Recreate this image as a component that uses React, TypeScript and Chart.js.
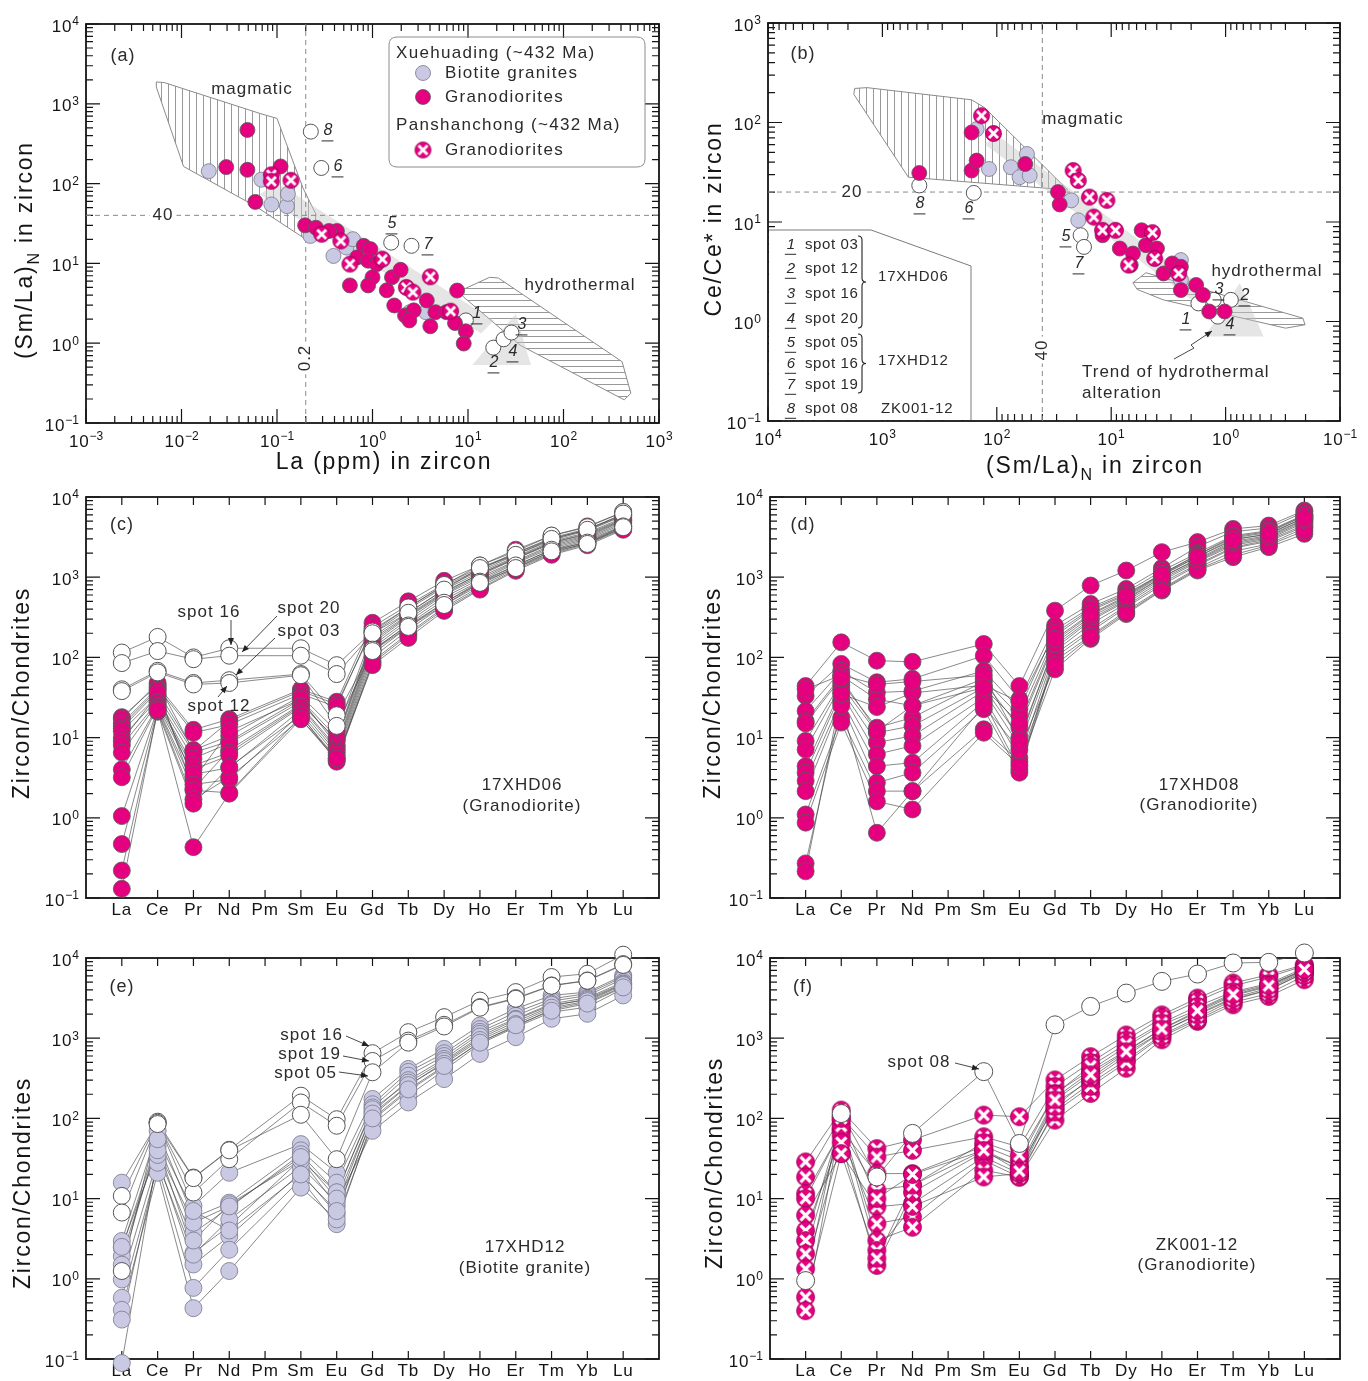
import React, { useEffect, useRef } from 'react';
import { Chart, registerables } from 'chart.js';

Chart.register(...registerables);

const FONT = "'Liberation Sans', Arial, Helvetica, sans-serif";
const MAGENTA = '#e4007f';
const LAVENDER = '#c9c9e3';
const INK = '#151515';
const NOTE = '#2b2b2b';
const TREND = 'rgba(198,198,198,0.45)';

// ---------------- categories / tick labels ----------------
const REE = ['La', 'Ce', 'Pr', 'Nd', 'Pm', 'Sm', 'Eu', 'Gd', 'Tb', 'Dy', 'Ho', 'Er', 'Tm', 'Yb', 'Lu'];
const A_X_EXP = [-3, 3];
const A_Y_EXP = [-1, 4];
const B_X_EXP = [-1, 4];
const B_Y_EXP = [-1, 3];
const REE_Y_EXP = [-1, 4];

// ---------------- panel (a): La (ppm) vs (Sm/La)N ----------------
const aBiotite = [
  [0.0193, 143], [0.0686, 112], [0.0873, 54.8], [0.127, 52.2], [0.13, 74.3], [0.224, 22.1],
  [0.39, 12.4], [0.533, 15.8], [0.624, 20.1], [2.46, 2.45], [3.62, 2.45],
];
const aGranodiorite = [
  [0.049, 470], [0.0294, 161], [0.049, 149], [0.109, 164], [0.0593, 59], [0.197, 30], [0.256, 28],
  [0.424, 25.5], [0.35, 25.5], [0.81, 16.6], [0.95, 15.1], [0.69, 11.9], [0.9, 10.8], [1.11, 9.8],
  [1.0, 6.7], [0.58, 5.3], [0.9, 5.3], [1.41, 4.6], [1.6, 6.7], [1.97, 8.3], [1.69, 2.97],
  [2.19, 2.23], [2.7, 2.58], [3.7, 3.43], [4.56, 2.45], [5.93, 2.45], [4.03, 1.63], [7.31, 1.79],
  [9.48, 1.41], [9.02, 0.99], [7.69, 4.57], [2.43, 1.93],
];
const aPanshanchong = [
  [0.0873, 129], [0.0873, 107], [0.14, 110], [0.294, 23.2], [0.466, 19.1], [0.58, 9.8],
  [1.27, 11.3], [2.26, 5.0], [2.65, 4.36], [4.03, 6.8], [6.58, 2.52],
];
const aSpotLabels = ['8', '6', '5', '7', '1', '2', '4', '3'];
const aSpots = [
  [0.226, 448], [0.291, 157], [1.57, 18.2], [2.56, 16.6], [9.5, 1.93], [18.4, 0.88], [23.6, 1.12], [28.5, 1.36],
];
const aMagmaticField = [
  [0.00545, 1879], [0.0066, 1845], [0.0658, 759], [0.1, 656], [0.123, 336], [0.187, 88.3],
  [0.256, 41.1], [0.243, 23.2], [0.208, 19.5], [0.0593, 52.2], [0.0105, 164], [0.00545, 1622],
];
const aHydrothermalField = [
  [8.11, 4.48], [16.9, 6.7], [20.8, 6.56], [411, 0.586], [507, 0.236], [433, 0.195], [35.1, 0.944], [9.02, 3.78],
];
const aTrendBand = [[0.0658, 72.9], [0.1, 102], [18.7, 1.93], [13.7, 1.32]];
const aTrendHead = [[31.6, 2.34], [45.6, 0.532], [11.1, 0.532]];

// ---------------- panel (b): (Sm/La)N vs Ce/Ce* ----------------
const bBiotite = [
  [150, 85.7], [117, 34.1], [75.3, 35.5], [63.2, 28.2], [51.6, 29.3], [54.5, 48.2], [22.4, 16.5],
  [19.4, 10.4], [2.46, 4.14], [2.46, 2.61],
];
const bGranodiorite = [
  [476, 31.1], [166, 79.4], [166, 32.9], [150, 41.4], [56.4, 38.3], [29.2, 20], [28.2, 15],
  [11.9, 7.36], [8.41, 5.41], [6.75, 3.69], [6.46, 4.82], [5.42, 8.26], [4.97, 5.85], [3.98, 5.41],
  [3.49, 3.04], [2.93, 3.83], [2.46, 2.07], [1.81, 2.33], [1.58, 1.85], [1.39, 1.26], [1.02, 1.26], [2.46, 3.55],
];
const bPanshanchong = [
  [136, 117], [107, 77.6], [21.5, 32.9], [19.4, 26.1], [15.5, 17.8], [10.9, 16.5], [14.2, 11.2],
  [11.9, 8.26], [9.18, 8.26], [7.05, 3.69], [4.36, 7.82], [4.17, 4.3], [2.57, 3.04],
];
const bSpotLabels = ['8', '6', '5', '7', '1', '3', '2', '4'];
const bSpots = [
  [476, 23.3], [159, 19.6], [18.5, 7.36], [17.3, 5.62], [1.73, 1.52], [1.27, 1.65], [0.9, 1.65], [1.17, 1.12],
];
const bMagmaticField = [
  [1746, 220], [1365, 224], [166, 169], [128, 141], [24, 21], [593, 28.2], [1778, 192],
];
const bHydrothermalField = [
  [6.46, 2.45], [4.97, 3.09], [0.211, 1.08], [0.202, 0.927], [0.299, 0.857], [3.5, 1.65], [5.92, 2.1],
];
const bTrendBand = [[128, 60.7], [97.7, 73.6], [1.33, 1.92], [1.73, 1.47]];
const bTrendHead = [[0.753, 2.42], [0.465, 0.708], [1.52, 0.708]];
const bKeySpots = ['spot 03', 'spot 12', 'spot 16', 'spot 20', 'spot 05', 'spot 16', 'spot 19', 'spot 08'];
const bKeySamples = ['17XHD06', '17XHD12', 'ZK001-12'];

// ---------------- panel (c): 17XHD06 granodiorite (La..Lu, Pm = null) ----------------
const cGranodiorite = [
  [18, 45, 12.5, 17, null, 40, 28, 270, 500, 900, 1400, 2200, 3300, 4300, 6500],
  [17, 48, 6.8, 16, null, 38, 26, 220, 420, 780, 1250, 2000, 3000, 3900, 5900],
  [15, 42, 11.5, 14.5, null, 35, 24, 240, 450, 820, 1300, 2000, 3100, 4000, 6000],
  [14, 40, 2.3, 7, null, 26, 9.5, 170, 340, 660, 1100, 1750, 2700, 3500, 5300],
  [13, 38, 7, 10.5, null, 33, 12, 200, 400, 750, 1200, 1900, 2900, 3800, 5800],
  [12, 33, 6.5, 9, null, 30, 10, 180, 360, 700, 1150, 1800, 2800, 3600, 5500],
  [10, 30, 5.5, 8.5, null, 28, 9, 160, 330, 640, 1100, 1700, 2700, 3400, 5200],
  [9, 35, 3, 12, null, 30, 8, 150, 320, 620, 1050, 1700, 2600, 3300, 5100],
  [8, 28, 4.5, 6.5, null, 25, 7.5, 140, 300, 600, 1000, 1600, 2500, 3200, 5000],
  [6.5, 27, 4, 6, null, 24, 7, 130, 280, 560, 950, 1550, 2400, 3100, 4800],
  [4, 25, 3.5, 4.2, null, 22, 6.5, 120, 260, 520, 900, 1500, 2300, 3000, 4600],
  [3.2, 24, 2.6, 3, null, 20, 6, 110, 240, 480, 850, 1400, 2200, 2900, 4400],
  [1.05, 23, 2.2, 2.05, null, 18.5, 5.5, 100, 220, 450, 800, 1350, 2100, 2800, 4300],
  [0.47, 22, 1.7, 3.2, null, 17, 5.2, 90, 200, 420, 760, 1300, 2000, 2700, 4100],
  [0.22, 21, 1.5, 4.3, null, 19, 5, 85, 190, 400, 720, 1250, 1950, 2600, 4000],
  [0.13, 22, 0.43, 2.0, null, 17, 5.5, 80, 175, 380, 700, 1200, 1900, 2500, 3900],
];
const cSpots = [
  [115, 180, 100, 130, null, 130, 80, 210, 420, 800, 1400, 2100, 3300, 4200, 6500], // spot 16
  [85, 120, 95, 105, null, 105, 62, 200, 360, 700, 1300, 1900, 3000, 3900, 6200], // spot 20
  [40, 68, 48, 52, null, 62, 19, 125, 250, 480, 880, 1400, 2200, 2700, 4300], // spot 03
  [38, 65, 46, 48, null, 60, 14, 120, 240, 450, 850, 1300, 2100, 2600, 4200], // spot 12
];

// ---------------- panel (d): 17XHD08 granodiorite ----------------
const dGranodiorite = [
  [44, 154, 91, 88, null, 147, 44, 383, 787, 1211, 2054, 2738, 4000, 4400, 6800],
  [33, 83, 49, 54, null, 105, 30, 249, 464, 714, 1300, 2400, 3700, 4100, 6500],
  [21.5, 68, 36.5, 38, null, 68, 22.6, 220, 420, 650, 1200, 2000, 3300, 3800, 6000],
  [16, 59, 30, 25, null, 54, 18.6, 186, 383, 600, 1100, 1900, 3100, 3600, 5800],
  [9.1, 49, 13.3, 17.8, null, 50, 13.3, 160, 340, 560, 1050, 1800, 3000, 3400, 5600],
  [7.1, 45, 11.5, 14, null, 42, 10, 140, 300, 520, 1000, 1700, 2800, 3300, 5300],
  [4.4, 40, 8.7, 10.5, null, 38, 7.9, 130, 287, 500, 950, 1600, 2600, 3100, 5000],
  [3.65, 36.5, 6.2, 7.9, null, 31.6, 5.6, 120, 260, 470, 900, 1550, 2500, 3000, 4800],
  [2.9, 30, 4.4, 4.87, null, 28, 4.0, 110, 226, 440, 850, 1450, 2371, 2900, 4500],
  [2.15, 27, 2.74, 3.65, null, 22.6, 3.65, 100, 210, 420, 800, 1400, 2300, 2800, 4300],
  [1.1, 17.8, 2.15, 2.15, null, 12.7, 5.0, 91, 186, 380, 720, 1300, 2100, 2600, 4100],
  [0.87, 15.4, 1.6, 1.27, null, 11.5, 4.5, 71, 170, 347, 681, 1211, 1778, 2371, 3470],
  [0.27, 25, 0.65, 2.15, null, 25, 7, 80, 180, 360, 700, 1250, 1900, 2500, 3800],
  [0.215, 35, 24, 36, null, 45, 28, 200, 400, 620, 1100, 1900, 3200, 3700, 5900],
  [40, 60, 46, 50, null, 60, 9, 150, 320, 540, 1000, 1650, 2700, 3200, 5200],
  [15, 55, 12, 25, null, 42, 15, 170, 350, 580, 1080, 1800, 2900, 3500, 5500],
];

// ---------------- panel (e): 17XHD12 biotite granite ----------------
const eBiotite = [
  [15.8, 89, 8.1, 21, null, 47.8, 21, 175, 414, 736, 1440, 2327, 3414, 3758, 6070],
  [2.96, 70, 5.8, 8.9, null, 40, 15.8, 150, 380, 650, 1300, 2100, 3100, 3600, 5800],
  [2.44, 52.5, 3.76, 7.7, null, 35.8, 11.9, 137, 341, 600, 1200, 1900, 2900, 3400, 5500],
  [1.92, 45.5, 2.11, 4.55, null, 31, 8.1, 120, 300, 552, 1132, 1746, 2685, 3200, 5012],
  [0.98, 31, 1.51, 3.4, null, 21, 6.4, 108, 256, 500, 1000, 1600, 2500, 3100, 4800],
  [0.58, 25.6, 0.77, 2.3, null, 17.4, 4.8, 95, 220, 434, 900, 1400, 2300, 2800, 4400],
  [0.41, 21, 0.43, 1.25, null, 13.7, 5.5, 85, 192, 400, 849, 1373, 2113, 2441, 4140],
  [0.31, 28, 2.0, 5.5, null, 25, 9, 70, 158, 309, 637, 1029, 1746, 2014, 3414],
  [0.089, 35, 3.0, 8.5, null, 30, 12, 130, 280, 520, 1050, 1700, 2600, 3000, 4700],
  [2.5, 40, 5, 8, null, 33, 10, 115, 260, 480, 950, 1500, 2400, 2900, 4600],
  [1.5, 55, 7, 4, null, 20, 7, 100, 230, 450, 880, 1450, 2200, 2700, 4300],
];
const eSpots = [
  [10.8, 91, 18.3, 40.6, null, 192, 97.7, 650, 1189, 1830, 2950, 3758, 5788, 6370, 11000], // spot 16
  [6.7, 88, 11.9, 31, null, 158, 81, 520, 933, 1468, 2441, 3162, 4550, 5248, 8400], // spot 19
  [1.25, 85, 18, 40, null, 111, 31, 376, 880, 1400, 2400, 3100, 4500, 5200, 8200], // spot 05
];

// ---------------- panel (f): ZK001-12 granodiorite (Panshanchong) ----------------
const fGranodiorite = [
  [28.7, 127, 42, 54, null, 110, 105, 302, 589, 1097, 1951, 3162, 4870, 6180, 8250],
  [18.6, 105, 33, 40, null, 59, 44, 250, 500, 950, 1800, 2900, 4500, 5800, 8000],
  [11.5, 71, 20.5, 20.5, null, 45, 30, 205, 402, 787, 1468, 2261, 3652, 4640, 7140],
  [10, 71, 12.7, 14.7, null, 40, 25, 180, 380, 700, 1300, 2100, 3400, 4400, 7000],
  [6.2, 36.5, 7.9, 8.7, null, 33, 20.5, 155, 300, 600, 1200, 2000, 3200, 4200, 6800],
  [4.0, 60, 4.87, 5.9, null, 30, 18.6, 130, 274, 536, 1097, 1800, 3000, 4000, 6500],
  [3.0, 90, 3.0, 4.4, null, 22.6, 18.6, 95, 205, 422, 955, 1622, 2610, 3320, 5360],
  [2.05, 80, 2.26, 8, null, 18.6, 20.5, 120, 250, 500, 1050, 1700, 2800, 3600, 6000],
  [1.33, 50, 1.47, 12, null, 38, 25, 140, 320, 650, 1200, 1950, 3100, 4000, 6600],
  [0.59, 36.5, 1.8, 14.7, null, 50, 35, 200, 450, 850, 1550, 2500, 3800, 4800, 7500],
  [0.4, 100, 10, 20, null, 40, 22, 170, 350, 680, 1300, 2200, 3500, 4500, 7200],
];
const fSpots = [
  [0.95, 115, 18.6, 65, null, 383, 48.7, 1468, 2490, 3652, 5110, 6310, 8660, 8830, 11550], // spot 08
];

// ---------------- drawing helpers ----------------
function setFont(ctx: any, size: number, italic?: boolean) {
  ctx.font = (italic ? 'italic ' : '') + size + 'px ' + FONT;
}
function setLS(ctx: any, px: number) {
  try { ctx.letterSpacing = px + 'px'; } catch (e) { /* ignore */ }
}

const cache: any = {};
function getXMarker(r: number) {
  const key = 'x' + r;
  if (cache[key]) return cache[key];
  const s = Math.ceil(2 * r + 3);
  const c = document.createElement('canvas');
  c.width = s; c.height = s;
  const g = c.getContext('2d')!;
  const m = s / 2;
  g.fillStyle = MAGENTA; g.strokeStyle = '#8e0050'; g.lineWidth = 0.8;
  g.beginPath(); g.arc(m, m, r, 0, Math.PI * 2); g.fill(); g.stroke();
  g.strokeStyle = '#ffffff'; g.lineWidth = Math.max(2.6, r * 0.36);
  const d = r * 0.56;
  g.beginPath();
  g.moveTo(m - d, m - d); g.lineTo(m + d, m + d);
  g.moveTo(m + d, m - d); g.lineTo(m - d, m + d);
  g.stroke();
  cache[key] = c;
  return c;
}
function getHatch(dir: string, spacing: number) {
  const key = 'h' + dir + spacing;
  if (cache[key]) return cache[key];
  const c = document.createElement('canvas');
  c.width = dir === 'v' ? spacing : 8; c.height = dir === 'v' ? 8 : spacing;
  const g = c.getContext('2d')!;
  g.strokeStyle = '#8d8d8d'; g.lineWidth = 0.9;
  g.beginPath();
  if (dir === 'v') { g.moveTo(0.5, 0); g.lineTo(0.5, 8); } else { g.moveTo(0, 0.5); g.lineTo(8, 0.5); }
  g.stroke();
  const p = g.createPattern(c, 'repeat');
  cache[key] = p;
  return p;
}

function logTicks(e0: number, e1: number) {
  const major: number[] = [], minor: number[] = [];
  for (let e = e0; e <= e1; e++) {
    const b = Math.pow(10, e);
    major.push(b);
    if (e < e1) for (let k = 2; k < 10; k++) minor.push(k * b);
  }
  return { major, minor };
}

function drawPow(ctx: any, x: number, y: number, e: number, align: string) {
  const es = (e < 0 ? '\u2212' : '') + Math.abs(e);
  setFont(ctx, 17); setLS(ctx, 0.8);
  const w1 = ctx.measureText('10').width;
  setFont(ctx, 12); setLS(ctx, 0);
  const w2 = ctx.measureText(es).width;
  const tot = w1 + w2;
  const x0 = align === 'right' ? x - tot : x - tot / 2;
  ctx.textAlign = 'left'; ctx.textBaseline = 'middle';
  setFont(ctx, 17); setLS(ctx, 0.8);
  ctx.fillText('10', x0, y);
  setFont(ctx, 12); setLS(ctx, 0);
  ctx.fillText(es, x0 + w1, y - 5);
}

function drawRich(ctx: any, runs: any[], cx: number, cy: number, size: number, rot: number, ls: number) {
  ctx.save();
  ctx.translate(cx, cy);
  if (rot) ctx.rotate(rot);
  ctx.textAlign = 'left'; ctx.textBaseline = 'alphabetic';
  ctx.fillStyle = INK;
  const widths = runs.map((r) => {
    setFont(ctx, r.sub ? Math.round(size * 0.68) : size); setLS(ctx, ls);
    return ctx.measureText(r.t).width;
  });
  const total = widths.reduce((s, w) => s + w, 0);
  let x = -total / 2;
  const base = size * 0.36;
  runs.forEach((r, i) => {
    setFont(ctx, r.sub ? Math.round(size * 0.68) : size); setLS(ctx, ls);
    ctx.fillText(r.t, x, r.sub ? base + size * 0.3 : base);
    x += widths[i];
  });
  ctx.restore();
}

function drawNote(ctx: any, n: any, ox: number, oy: number) {
  const size = n.size || 17;
  ctx.save();
  ctx.translate(n.x - ox, n.y - oy);
  if (n.rot) ctx.rotate(n.rot);
  setFont(ctx, size, n.italic); setLS(ctx, n.ls == null ? 1 : n.ls);
  const align = n.align || 'center';
  ctx.textAlign = 'left'; ctx.textBaseline = 'middle';
  const w = ctx.measureText(n.t).width;
  const x0 = align === 'center' ? -w / 2 : align === 'right' ? -w : 0;
  if (n.bg) {
    ctx.fillStyle = '#ffffff';
    ctx.fillRect(x0 - 3, -size * 0.55, w + 6, size * 1.1);
  }
  ctx.fillStyle = n.color || NOTE;
  ctx.fillText(n.t, x0, 0);
  if (n.underline) {
    ctx.strokeStyle = n.color || NOTE; ctx.lineWidth = 1;
    ctx.beginPath(); ctx.moveTo(x0 - 2, size * 0.62); ctx.lineTo(x0 + w + 1, size * 0.62); ctx.stroke();
  }
  ctx.restore();
}

function drawArrow(ctx: any, pts: number[][], ox: number, oy: number) {
  ctx.save();
  ctx.strokeStyle = '#333'; ctx.fillStyle = '#222'; ctx.lineWidth = 0.9;
  ctx.beginPath();
  pts.forEach(([x, y], i) => (i ? ctx.lineTo(x - ox, y - oy) : ctx.moveTo(x - ox, y - oy)));
  ctx.stroke();
  const [x1, y1] = pts[pts.length - 2];
  const [x2, y2] = pts[pts.length - 1];
  const a = Math.atan2(y2 - y1, x2 - x1);
  const L = 7, W = 3;
  const tx = x2 - ox, ty = y2 - oy;
  ctx.beginPath();
  ctx.moveTo(tx, ty);
  ctx.lineTo(tx - L * Math.cos(a) + W * Math.sin(a), ty - L * Math.sin(a) - W * Math.cos(a));
  ctx.lineTo(tx - L * Math.cos(a) - W * Math.sin(a), ty - L * Math.sin(a) + W * Math.cos(a));
  ctx.closePath(); ctx.fill();
  ctx.restore();
}

function drawAxes(chart: any, d: any) {
  const { ctx, chartArea: a } = chart;
  const xs = chart.scales.x, ys = chart.scales.y;
  const MAJ = 14, MIN = 7;
  ctx.save();
  ctx.strokeStyle = INK; ctx.lineWidth = 1.2;
  ctx.beginPath();
  const yt = logTicks(d.yExp[0], d.yExp[1]);
  const hy = (v: number, len: number) => {
    const p = ys.getPixelForValue(v);
    ctx.moveTo(a.left, p); ctx.lineTo(a.left + len, p);
    ctx.moveTo(a.right, p); ctx.lineTo(a.right - len, p);
  };
  yt.major.forEach((v) => hy(v, MAJ));
  yt.minor.forEach((v) => hy(v, MIN));
  const vx = (p: number, len: number) => {
    ctx.moveTo(p, a.bottom); ctx.lineTo(p, a.bottom - len);
    ctx.moveTo(p, a.top); ctx.lineTo(p, a.top + len);
  };
  if (d.xExp) {
    const xt = logTicks(d.xExp[0], d.xExp[1]);
    xt.major.forEach((v) => vx(xs.getPixelForValue(v), MAJ));
    xt.minor.forEach((v) => vx(xs.getPixelForValue(v), MIN));
  } else {
    REE.forEach((_, i) => vx(xs.getPixelForValue(i), 8));
  }
  ctx.stroke();
  if (d.mask) d.mask(ctx, d.ox, d.oy);
  ctx.strokeStyle = INK;
  ctx.lineWidth = 1.8;
  ctx.strokeRect(a.left, a.top, a.right - a.left, a.bottom - a.top);
  ctx.fillStyle = INK;
  for (let e = d.yExp[0]; e <= d.yExp[1]; e++) {
    drawPow(ctx, a.left - 7, ys.getPixelForValue(Math.pow(10, e)) + 3, e, 'right');
  }
  if (d.xExp) {
    for (let e = d.xExp[0]; e <= d.xExp[1]; e++) {
      drawPow(ctx, xs.getPixelForValue(Math.pow(10, e)), a.bottom + 19, e, 'center');
    }
  } else {
    setFont(ctx, 17); setLS(ctx, 0.8);
    ctx.textAlign = 'center'; ctx.textBaseline = 'middle';
    REE.forEach((c, i) => ctx.fillText(c, xs.getPixelForValue(i), a.bottom + 12));
  }
  if (d.xTitle) drawRich(ctx, d.xTitle.runs, d.xTitle.x - d.ox, d.xTitle.y - d.oy, 23, 0, 1.8);
  if (d.yTitle) drawRich(ctx, d.yTitle.runs, d.yTitle.x - d.ox, d.yTitle.y - d.oy, 23, -Math.PI / 2, 1.8);
  ctx.restore();
}

function decorPlugin(d: any) {
  return {
    id: 'decor',
    beforeDatasetsDraw(chart: any) { drawAxes(chart, d); },
    afterDatasetsDraw(chart: any) {
      const ctx = chart.ctx;
      ctx.save();
      if (d.extra) d.extra(ctx, d.ox, d.oy);
      (d.arrows || []).forEach((ar: number[][]) => drawArrow(ctx, ar, d.ox, d.oy));
      (d.notes || []).forEach((n: any) => drawNote(ctx, n, d.ox, d.oy));
      ctx.restore();
    },
  };
}

// ---------------- dataset helpers ----------------
const ST_MAG = { backgroundColor: MAGENTA, borderColor: '#5a5a5a', borderWidth: 0.8 };
const ST_LAV = { backgroundColor: LAVENDER, borderColor: '#77778a', borderWidth: 0.8 };
const ST_OPEN = { backgroundColor: '#ffffff', borderColor: '#555555', borderWidth: 1 };

const toXY = (pts: number[][]) => pts.map(([x, y]) => ({ x, y }));

function pointSet(label: string, pts: number[][], st: any, r: number, order: number, img?: any) {
  return {
    type: 'scatter', label, data: toXY(pts), pointRadius: r, pointStyle: img || 'circle',
    ...st, order, clip: false, showLine: false,
  };
}
function polySet(label: string, pts: number[][], fillColor: any, stroke: string | null, order: number) {
  return {
    type: 'line', label, data: toXY([...pts, pts[0]]), fill: 'shape', backgroundColor: fillColor,
    borderColor: stroke || 'rgba(0,0,0,0)', borderWidth: stroke ? 1 : 0, pointRadius: 0, tension: 0, order,
  };
}
function dashSet(label: string, pts: number[][], order: number) {
  return {
    type: 'line', label, data: toXY(pts), borderColor: '#8a8a8a', borderDash: [5, 4], borderWidth: 1,
    pointRadius: 0, fill: false, order,
  };
}
function spiderSets(label: string, series: any[][], st: any, r: number, ptOrder: number, img?: any) {
  const sets: any[] = series.map((s, k) => ({
    type: 'line', label: label + ' ' + (k + 1), data: s.map((v, i) => ({ x: i, y: v })), spanGaps: true,
    borderColor: 'rgba(70,70,70,0.85)', borderWidth: 0.75, pointRadius: 0, fill: false, order: 10,
  }));
  const pts: any[] = [];
  series.forEach((s) => s.forEach((v, i) => { if (v != null) pts.push({ x: i, y: v }); }));
  sets.push({
    type: 'scatter', label, data: pts, pointRadius: r, pointStyle: img || 'circle', ...st,
    order: ptOrder, clip: false, showLine: false,
  });
  return sets;
}

function baseOptions(pad: any, xs: any, ys: any) {
  return {
    animation: false, responsive: false, maintainAspectRatio: false, events: [],
    layout: { padding: pad },
    scales: { x: { display: false, ...xs }, y: { display: false, ...ys } },
    plugins: { legend: { display: false }, tooltip: { enabled: false } },
  };
}

const SMLA = [{ t: '(Sm/La)' }, { t: 'N', sub: true }, { t: ' in zircon' }];
const digit = (t: string, x: number, y: number) => ({ t, x, y, size: 16, italic: true, underline: true, ls: 0 });

// ---------------- legends ----------------
function legendA(ctx: any, ox: number, oy: number) {
  ctx.save();
  ctx.strokeStyle = '#8c8c8c'; ctx.lineWidth = 1;
  const x = 389 - ox, y = 37 - oy, w = 256, h = 130, r = 8;
  ctx.beginPath();
  ctx.moveTo(x + r, y); ctx.lineTo(x + w - r, y); ctx.quadraticCurveTo(x + w, y, x + w, y + r);
  ctx.lineTo(x + w, y + h - r); ctx.quadraticCurveTo(x + w, y + h, x + w - r, y + h);
  ctx.lineTo(x + r, y + h); ctx.quadraticCurveTo(x, y + h, x, y + h - r);
  ctx.lineTo(x, y + r); ctx.quadraticCurveTo(x, y, x + r, y);
  ctx.stroke();
  const circ = (cx: number, cy: number, st: any) => {
    ctx.fillStyle = st.backgroundColor; ctx.strokeStyle = st.borderColor; ctx.lineWidth = st.borderWidth;
    ctx.beginPath(); ctx.arc(cx - ox, cy - oy, 7.5, 0, Math.PI * 2); ctx.fill(); ctx.stroke();
  };
  circ(423, 73, ST_LAV);
  circ(423, 97, ST_MAG);
  const xm = getXMarker(8);
  ctx.drawImage(xm, 423 - ox - xm.width / 2, 150 - oy - xm.height / 2);
  ctx.restore();
  [
    { t: 'Xuehuading (~432 Ma)', x: 396, y: 53, align: 'left', ls: 1.3 },
    { t: 'Biotite granites', x: 445, y: 73, align: 'left', ls: 1.3 },
    { t: 'Granodiorites', x: 445, y: 97, align: 'left', ls: 1.3 },
    { t: 'Panshanchong (~432 Ma)', x: 396, y: 125, align: 'left', ls: 1.3 },
    { t: 'Granodiorites', x: 445, y: 150, align: 'left', ls: 1.3 },
  ].forEach((n) => drawNote(ctx, n, ox, oy));
}

function brace(ctx: any, x: number, y0: number, y1: number) {
  const ym = (y0 + y1) / 2, w = 4;
  ctx.beginPath();
  ctx.moveTo(x - w, y0);
  ctx.quadraticCurveTo(x, y0, x, y0 + w);
  ctx.lineTo(x, ym - w);
  ctx.quadraticCurveTo(x, ym, x + w, ym);
  ctx.quadraticCurveTo(x, ym, x, ym + w);
  ctx.lineTo(x, y1 - w);
  ctx.quadraticCurveTo(x, y1, x - w, y1);
  ctx.stroke();
}

const KEY_B = [[768, 230], [871, 230], [971, 266], [971, 421]];
function maskB(ctx: any, ox: number, oy: number) {
  ctx.save();
  ctx.fillStyle = '#ffffff';
  ctx.beginPath();
  ctx.moveTo(769 - ox, 230 - oy);
  KEY_B.slice(1).forEach(([x, y]) => ctx.lineTo(x - ox, Math.min(y, 420) - oy));
  ctx.lineTo(769 - ox, 420 - oy);
  ctx.closePath();
  ctx.fill();
  ctx.strokeStyle = '#7a7a7a'; ctx.lineWidth = 1;
  ctx.beginPath();
  KEY_B.forEach(([x, y], i) => (i ? ctx.lineTo(x - ox, y - oy) : ctx.moveTo(x - ox, y - oy)));
  ctx.stroke();
  ctx.restore();
}

function legendB(ctx: any, ox: number, oy: number) {
  ctx.save();
  ctx.strokeStyle = '#222'; ctx.lineWidth = 1.1;
  brace(ctx, 862 - ox, 236 - oy, 328 - oy);
  brace(ctx, 862 - ox, 334 - oy, 393 - oy);
  ctx.restore();
  const ys = [245, 269, 294, 319, 343, 364, 385, 409];
  bKeySpots.forEach((s, i) => {
    drawNote(ctx, { t: String(i + 1), x: 791, y: ys[i], size: 15, italic: true, underline: true, ls: 0 }, ox, oy);
    drawNote(ctx, { t: s, x: 805, y: ys[i], size: 15, align: 'left', ls: 0.6 }, ox, oy);
  });
  drawNote(ctx, { t: bKeySamples[0], x: 878, y: 277, size: 15, align: 'left', ls: 0.8 }, ox, oy);
  drawNote(ctx, { t: bKeySamples[1], x: 878, y: 361, size: 15, align: 'left', ls: 0.8 }, ox, oy);
  drawNote(ctx, { t: bKeySamples[2], x: 881, y: 409, size: 15, align: 'left', ls: 0.8 }, ox, oy);
}

const spotNotesA = [[328, 131], [338, 167], [392, 224], [428, 245], [477, 314], [494, 363], [513, 352], [522, 325]];
const spotNotesB = [[920, 204], [969, 209], [1066, 237], [1079, 264], [1186, 320], [1219, 290], [1245, 296], [1230, 325]];

// ---------------- panel definitions ----------------
const PANELS: any[] = [
  {
    id: 'a', ox: 0, oy: 0, w: 684, h: 480,
    build: () => ({
      type: 'scatter',
      data: {
        datasets: [
          polySet('Magmatic field', aMagmaticField, getHatch('v', 7), '#8a8a8a', 30),
          polySet('Hydrothermal field', aHydrothermalField, getHatch('h', 6), '#8a8a8a', 30),
          polySet('Trend band', aTrendBand, TREND, null, 29),
          polySet('Trend head', aTrendHead, TREND, null, 29),
          dashSet('La = 0.2', [[0.2, 0.1], [0.2, 1e4]], 28),
          dashSet('(Sm/La)N = 40', [[1e-3, 40], [1e3, 40]], 28),
          pointSet('Hydrothermal spots', aSpots, ST_OPEN, 7.5, 4),
          pointSet('Biotite granites', aBiotite, ST_LAV, 7.5, 3),
          pointSet('Granodiorites', aGranodiorite, ST_MAG, 7.5, 2),
          pointSet('Panshanchong granodiorites', aPanshanchong, ST_MAG, 8, 1, getXMarker(8)),
        ],
      },
      options: baseOptions({ left: 86, top: 24, right: 25, bottom: 57 },
        { type: 'logarithmic', min: 1e-3, max: 1e3 }, { type: 'logarithmic', min: 0.1, max: 1e4 }),
    }),
    decor: {
      ox: 0, oy: 0, xExp: A_X_EXP, yExp: A_Y_EXP,
      xTitle: { runs: [{ t: 'La (ppm) in zircon' }], x: 384, y: 461 },
      yTitle: { runs: SMLA, x: 24, y: 250 },
      extra: legendA,
      notes: [
        { t: '(a)', x: 123, y: 56, size: 18 },
        { t: 'magmatic', x: 252, y: 89 },
        { t: 'hydrothermal', x: 580, y: 285 },
        { t: '40', x: 163, y: 215, bg: true },
        { t: '0.2', x: 305, y: 358, rot: -Math.PI / 2, bg: true },
        ...aSpotLabels.map((t, i) => digit(t, spotNotesA[i][0], spotNotesA[i][1])),
      ],
    },
  },
  {
    id: 'b', ox: 684, oy: 0, w: 684, h: 480,
    build: () => ({
      type: 'scatter',
      data: {
        datasets: [
          polySet('Magmatic field', bMagmaticField, getHatch('v', 7), '#8a8a8a', 30),
          polySet('Hydrothermal field', bHydrothermalField, getHatch('h', 6), '#8a8a8a', 30),
          polySet('Trend band', bTrendBand, TREND, null, 29),
          polySet('Trend head', bTrendHead, TREND, null, 29),
          dashSet('(Sm/La)N = 40', [[40, 0.1], [40, 1e3]], 28),
          dashSet('Ce/Ce* = 20', [[1e4, 20], [0.1, 20]], 28),
          pointSet('Hydrothermal spots', bSpots, ST_OPEN, 7.5, 4),
          pointSet('Biotite granites', bBiotite, ST_LAV, 7.5, 3),
          pointSet('Granodiorites', bGranodiorite, ST_MAG, 7.5, 2),
          pointSet('Panshanchong granodiorites', bPanshanchong, ST_MAG, 8, 1, getXMarker(8)),
        ],
      },
      options: baseOptions({ left: 84, top: 23, right: 28, bottom: 59 },
        { type: 'logarithmic', min: 0.1, max: 1e4, reverse: true }, { type: 'logarithmic', min: 0.1, max: 1e3 }),
    }),
    decor: {
      ox: 684, oy: 0, xExp: B_X_EXP, yExp: B_Y_EXP,
      xTitle: { runs: SMLA, x: 1095, y: 465 },
      yTitle: { runs: [{ t: 'Ce/Ce* in zircon' }], x: 713, y: 219 },
      mask: maskB,
      extra: legendB,
      arrows: [[[1174, 359], [1194, 348], [1191, 345], [1212, 331]]],
      notes: [
        { t: '(b)', x: 803, y: 54, size: 18 },
        { t: 'magmatic', x: 1083, y: 119 },
        { t: 'hydrothermal', x: 1267, y: 271 },
        { t: '20', x: 852, y: 192, bg: true },
        { t: '40', x: 1042, y: 350, rot: -Math.PI / 2, bg: true },
        { t: 'Trend of hydrothermal', x: 1082, y: 372, align: 'left' },
        { t: 'alteration', x: 1082, y: 393, align: 'left' },
        ...bSpotLabels.map((t, i) => digit(t, spotNotesB[i][0], spotNotesB[i][1])),
      ],
    },
  },
  {
    id: 'c', ox: 0, oy: 480, w: 684, h: 460,
    build: () => ({
      type: 'scatter',
      data: {
        datasets: [
          ...spiderSets('17XHD06 granodiorite', cGranodiorite, ST_MAG, 8.5, 2),
          ...spiderSets('17XHD06 altered spots', cSpots, ST_OPEN, 8.5, 1),
        ],
      },
      options: baseOptions({ left: 86, top: 17, right: 25, bottom: 42 },
        { type: 'linear', min: -1, max: 15 }, { type: 'logarithmic', min: 0.1, max: 1e4 }),
    }),
    decor: {
      ox: 0, oy: 480, yExp: REE_Y_EXP,
      yTitle: { runs: [{ t: 'Zircon/Chondrites' }], x: 21, y: 693 },
      arrows: [
        [[231, 620], [231, 645]],
        [[277, 616], [242, 652]],
        [[275, 638], [236, 675]],
        [[218, 697], [227, 686]],
      ],
      notes: [
        { t: '(c)', x: 122, y: 525, size: 18 },
        { t: 'spot 16', x: 209, y: 612 },
        { t: 'spot 20', x: 309, y: 608 },
        { t: 'spot 03', x: 309, y: 631 },
        { t: 'spot 12', x: 219, y: 706 },
        { t: '17XHD06', x: 522, y: 785 },
        { t: '(Granodiorite)', x: 522, y: 806 },
      ],
    },
  },
  {
    id: 'd', ox: 684, oy: 480, w: 684, h: 460,
    build: () => ({
      type: 'scatter',
      data: { datasets: [...spiderSets('17XHD08 granodiorite', dGranodiorite, ST_MAG, 8.5, 2)] },
      options: baseOptions({ left: 86, top: 17, right: 28, bottom: 42 },
        { type: 'linear', min: -1, max: 15 }, { type: 'logarithmic', min: 0.1, max: 1e4 }),
    }),
    decor: {
      ox: 684, oy: 480, yExp: REE_Y_EXP,
      yTitle: { runs: [{ t: 'Zircon/Chondrites' }], x: 712, y: 693 },
      notes: [
        { t: '(d)', x: 803, y: 525, size: 18 },
        { t: '17XHD08', x: 1199, y: 785 },
        { t: '(Granodiorite)', x: 1199, y: 805 },
      ],
    },
  },
  {
    id: 'e', ox: 0, oy: 940, w: 684, h: 441,
    build: () => ({
      type: 'scatter',
      data: {
        datasets: [
          ...spiderSets('17XHD12 biotite granite', eBiotite, ST_LAV, 8.5, 2),
          ...spiderSets('17XHD12 altered spots', eSpots, ST_OPEN, 8.5, 1),
        ],
      },
      options: baseOptions({ left: 86, top: 18, right: 25, bottom: 22 },
        { type: 'linear', min: -1, max: 15 }, { type: 'logarithmic', min: 0.1, max: 1e4 }),
    }),
    decor: {
      ox: 0, oy: 940, yExp: REE_Y_EXP,
      yTitle: { runs: [{ t: 'Zircon/Chondrites' }], x: 22, y: 1183 },
      arrows: [
        [[346, 1036], [369, 1046]],
        [[343, 1056], [369, 1061]],
        [[339, 1072], [368, 1076]],
      ],
      notes: [
        { t: '(e)', x: 122, y: 987, size: 18 },
        { t: 'spot 16', x: 343, y: 1035, align: 'right' },
        { t: 'spot 19', x: 341, y: 1054, align: 'right' },
        { t: 'spot 05', x: 337, y: 1073, align: 'right' },
        { t: '17XHD12', x: 525, y: 1247 },
        { t: '(Biotite granite)', x: 525, y: 1268 },
      ],
    },
  },
  {
    id: 'f', ox: 684, oy: 940, w: 684, h: 441,
    build: () => ({
      type: 'scatter',
      data: {
        datasets: [
          ...spiderSets('ZK001-12 granodiorite', fGranodiorite, ST_MAG, 9, 2, getXMarker(9)),
          ...spiderSets('ZK001-12 altered spot', fSpots, ST_OPEN, 9, 1),
        ],
      },
      options: baseOptions({ left: 86, top: 18, right: 28, bottom: 22 },
        { type: 'linear', min: -1, max: 15 }, { type: 'logarithmic', min: 0.1, max: 1e4 }),
    }),
    decor: {
      ox: 684, oy: 940, yExp: REE_Y_EXP,
      yTitle: { runs: [{ t: 'Zircon/Chondrites' }], x: 714, y: 1163 },
      arrows: [[[955, 1063], [979, 1069]]],
      notes: [
        { t: '(f)', x: 803, y: 987, size: 18 },
        { t: 'spot 08', x: 919, y: 1062 },
        { t: 'ZK001-12', x: 1197, y: 1245 },
        { t: '(Granodiorite)', x: 1197, y: 1265 },
      ],
    },
  },
];

function Panel({ spec }: { spec: any }) {
  const ref = useRef<HTMLCanvasElement>(null);
  useEffect(() => {
    const cfg: any = spec.build();
    cfg.plugins = [decorPlugin(spec.decor)];
    const chart = new Chart(ref.current as HTMLCanvasElement, cfg);
    return () => chart.destroy();
  }, [spec]);
  return (
    <canvas
      ref={ref}
      width={spec.w}
      height={spec.h}
      style={{ position: 'absolute', left: spec.ox, top: spec.oy, width: spec.w, height: spec.h }}
    />
  );
}

export default function App() {
  useEffect(() => {
    document.body.style.margin = '0';
    document.body.style.background = '#ffffff';
  }, []);
  return (
    <div style={{ position: 'relative', width: 1368, height: 1381, background: '#ffffff', overflow: 'hidden' }}>
      {PANELS.map((p) => (
        <Panel key={p.id} spec={p} />
      ))}
    </div>
  );
}
